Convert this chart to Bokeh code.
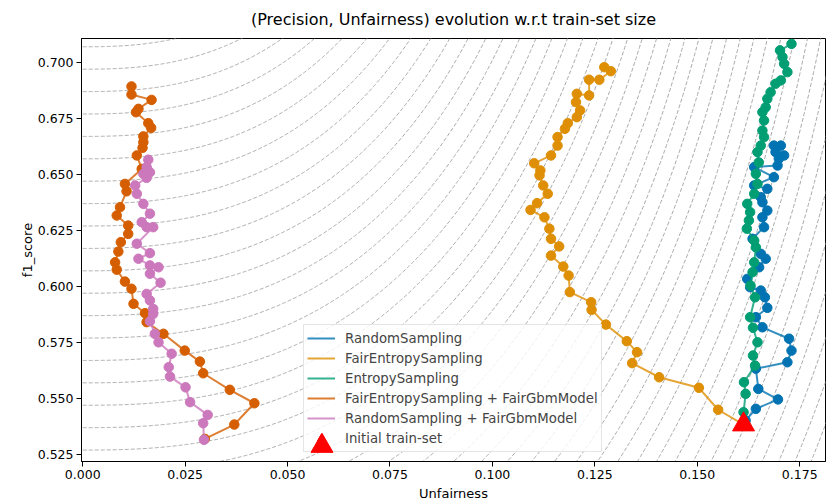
import numpy as np
from bokeh.plotting import figure
from bokeh.models import Range1d, FixedTicker, NumeralTickFormatter, Legend, LegendItem
from bokeh.embed import file_html
from bokeh.resources import INLINE

# ---------------- data ----------------
x_ticks = [0.0, 0.025, 0.05, 0.075, 0.1, 0.125, 0.15, 0.175]
y_ticks = [0.525, 0.55, 0.575, 0.6, 0.625, 0.65, 0.675, 0.7]

initial_x = [0.1613]
initial_y = [0.5384]

random_x = [0.1613, 0.1618, 0.1643, 0.1697, 0.1649, 0.1643, 0.1720, 0.1730, 0.1724,
            0.1659, 0.1643, 0.1671, 0.1665, 0.1655, 0.1629, 0.1622, 0.1651, 0.1667,
            0.1655, 0.1635, 0.1663, 0.1659, 0.1671, 0.1659, 0.1655, 0.1671, 0.1639,
            0.1687, 0.1639, 0.1696, 0.1699, 0.1712, 0.1691, 0.1704, 0.1687]
random_y = [0.5384, 0.5402, 0.5454, 0.5496, 0.5543, 0.5633, 0.5662, 0.5714, 0.5767,
            0.5818, 0.5863, 0.5905, 0.5952, 0.5982, 0.5997, 0.6034, 0.6086, 0.6124,
            0.6146, 0.6213, 0.6265, 0.6309, 0.6339, 0.6376, 0.6399, 0.6436, 0.6451,
            0.6488, 0.6533, 0.6540, 0.6570, 0.6585, 0.6600, 0.6629, 0.6629]

fair_entropy_x = [0.1613, 0.1551, 0.1504, 0.1407, 0.1341, 0.1353, 0.1328, 0.1277,
                  0.1242, 0.1241, 0.1189, 0.1186, 0.1173, 0.1143, 0.1163, 0.1143,
                  0.1139, 0.1127, 0.1093, 0.1109, 0.1135, 0.1124, 0.1115, 0.1117,
                  0.1102, 0.1143, 0.1159, 0.1159, 0.1177, 0.1184, 0.1206, 0.1214,
                  0.1204, 0.1206, 0.1236, 0.1236, 0.1261, 0.1289, 0.1273]
fair_entropy_y = [0.5384, 0.5450, 0.5548, 0.5595, 0.5658, 0.5707, 0.5756, 0.5830,
                  0.5896, 0.5930, 0.5975, 0.6049, 0.6089, 0.6138, 0.6179, 0.6213,
                  0.6258, 0.6309, 0.6342, 0.6372, 0.6414, 0.6451, 0.6496, 0.6518,
                  0.6550, 0.6585, 0.6629, 0.6667, 0.6704, 0.6729, 0.6756, 0.6786,
                  0.6823, 0.6860, 0.6853, 0.6923, 0.6923, 0.6961, 0.6979]

entropy_x = [0.1613, 0.1613, 0.1618, 0.1614, 0.1641, 0.1636, 0.1647, 0.1636, 0.1629,
             0.1641, 0.1630, 0.1635, 0.1639, 0.1643, 0.1639, 0.1621, 0.1626, 0.1629,
             0.1622, 0.1639, 0.1647, 0.1643, 0.1650, 0.1647, 0.1655, 0.1663, 0.1659,
             0.1663, 0.1659, 0.1667, 0.1671, 0.1679, 0.1691, 0.1704, 0.1720, 0.1712,
             0.1708, 0.1702, 0.1730]
entropy_y = [0.5384, 0.5439, 0.5521, 0.5573, 0.5647, 0.5692, 0.5751, 0.5816, 0.5863,
             0.5952, 0.6004, 0.6064, 0.6108, 0.6175, 0.6205, 0.6258, 0.6295, 0.6332,
             0.6369, 0.6414, 0.6458, 0.6503, 0.6554, 0.6600, 0.6629, 0.6667, 0.6696,
             0.6741, 0.6778, 0.6800, 0.6838, 0.6867, 0.6905, 0.6920, 0.6957, 0.6994,
             0.7024, 0.7054, 0.7083]

fes_gbm_x = [0.0298, 0.0370, 0.0419, 0.0359, 0.0294, 0.0286, 0.0249, 0.0197, 0.0156,
             0.0152, 0.0124, 0.0119, 0.0103, 0.0083, 0.0079, 0.0087, 0.0093, 0.0111,
             0.0111, 0.0083, 0.0091, 0.0107, 0.0103, 0.0144, 0.0132, 0.0146, 0.0148,
             0.0148, 0.0167, 0.0160, 0.0130, 0.0136, 0.0168, 0.0119, 0.0119]
fes_gbm_y = [0.5320, 0.5384, 0.5479, 0.5539, 0.5613, 0.5665, 0.5714, 0.5789, 0.5841,
             0.5881, 0.5923, 0.5990, 0.6022, 0.6075, 0.6108, 0.6156, 0.6198, 0.6235,
             0.6272, 0.6317, 0.6354, 0.6425, 0.6458, 0.6525, 0.6585, 0.6619, 0.6644,
             0.6670, 0.6708, 0.6729, 0.6778, 0.6793, 0.6833, 0.6857, 0.6893]

rs_gbm_x = [0.0296, 0.0294, 0.0305, 0.0262, 0.0251, 0.0213, 0.0210, 0.0217, 0.0185,
            0.0176, 0.0164, 0.0172, 0.0172, 0.0164, 0.0156, 0.0190, 0.0164, 0.0185,
            0.0164, 0.0136, 0.0164, 0.0132, 0.0172, 0.0156, 0.0144, 0.0164, 0.0148,
            0.0132, 0.0128, 0.0156, 0.0148, 0.0164, 0.0156, 0.0160]
rs_gbm_y = [0.5316, 0.5390, 0.5427, 0.5484, 0.5550, 0.5598, 0.5640, 0.5700, 0.5751,
            0.5789, 0.5845, 0.5878, 0.5900, 0.5938, 0.5967, 0.6017, 0.6057, 0.6086,
            0.6094, 0.6124, 0.6149, 0.6191, 0.6265, 0.6265, 0.6287, 0.6325, 0.6369,
            0.6414, 0.6451, 0.6485, 0.6503, 0.6510, 0.6533, 0.6566]

series_names = ["RandomSampling", "FairEntropySampling", "EntropySampling",
                "FairEntropySampling + FairGbmModel", "RandomSampling + FairGbmModel"]
series_colors = ["#0173b2", "#de8f05", "#029e73", "#d55e00", "#cc78bc"]
title_text = "(Precision, Unfairness) evolution w.r.t train-set size"

# background iso-curves (super-ellipses centred on (0, CENTER_Y))
CENTER_Y = 1.037
X_WEIGHT = 3.46
NORM_P = 2.5
LEVEL_STEP = 0.01

# ---------------- figure ----------------
p = figure(width=827, height=503, output_backend="svg", toolbar_location=None,
           x_range=Range1d(-0.0003, 0.1813), y_range=Range1d(0.5219, 0.7107),
           min_border_left=81, min_border_right=2, min_border_top=38, min_border_bottom=42,
           title=title_text)
p.title.text_font = "DejaVu Sans"
p.title.text_font_size = "16px"
p.title.text_font_style = "normal"
p.title.text_color = "black"
p.title.align = "center"
p.title.vertical_align = "top"
p.title.standoff = 15
p.xgrid.grid_line_color = None
p.ygrid.grid_line_color = None
p.outline_line_color = "black"
p.outline_line_alpha = 1
p.background_fill_color = "white"

p.xaxis.ticker = FixedTicker(ticks=x_ticks)
p.yaxis.ticker = FixedTicker(ticks=y_ticks)
p.xaxis.formatter = NumeralTickFormatter(format="0.000")
p.yaxis.formatter = NumeralTickFormatter(format="0.000")
p.xaxis.axis_label = "Unfairness"
p.yaxis.axis_label = "f1_score"
for ax in (p.xaxis[0], p.yaxis[0]):
    ax.major_label_text_font = "DejaVu Sans"
    ax.major_label_text_font_size = "12.5px"
    ax.major_label_text_color = "black"
    ax.axis_label_text_font = "DejaVu Sans"
    ax.axis_label_text_font_size = "13px"
    ax.axis_label_text_font_style = "normal"
    ax.axis_label_text_color = "black"
    ax.minor_tick_line_color = None
    ax.major_tick_out = 5
    ax.major_tick_in = 0
    ax.major_label_standoff = 3
    ax.axis_line_color = "black"
    ax.major_tick_line_color = "black"
p.xaxis[0].axis_label_standoff = 4
p.yaxis[0].axis_label_standoff = 0

# contour curves
xg = np.linspace(0.0, 0.19, 900)
f_top = CENTER_Y - 0.72
f_max = ((X_WEIGHT * 0.19) ** NORM_P + (CENTER_Y - 0.52) ** NORM_P) ** (1 / NORM_P)
cxs, cys = [], []
k = int(round(f_top / LEVEL_STEP))
while k * LEVEL_STEP <= f_max + LEVEL_STEP:
    F = k * LEVEL_STEP
    m = (X_WEIGHT * xg) <= F
    xx = xg[m]
    rem = np.maximum(F ** NORM_P - (X_WEIGHT * xx) ** NORM_P, 0)
    yy = CENTER_Y - rem ** (1 / NORM_P)
    cxs.append(xx.tolist())
    cys.append(yy.tolist())
    k += 1
p.multi_line(cxs, cys, line_color="#a8a8a8", line_width=1, line_dash="4 2")

all_x = [random_x, fair_entropy_x, entropy_x, fes_gbm_x, rs_gbm_x]
all_y = [random_y, fair_entropy_y, entropy_y, fes_gbm_y, rs_gbm_y]
line_rs = []
for xs, ys, col in zip(all_x, all_y, series_colors):
    lr = p.line(xs, ys, line_color=col, line_width=2, line_alpha=0.8)
    p.scatter(xs, ys, size=9.5, fill_color=col, line_color=col, marker="circle")
    line_rs.append(lr)

tri = p.scatter(initial_x, initial_y, marker="triangle", size=22,
                fill_color="red", line_color="red")

items = [LegendItem(label=n, renderers=[r]) for n, r in zip(series_names, line_rs)]
items.append(LegendItem(label="Initial train-set", renderers=[tri]))
legend = Legend(items=items, location=(222, 9))
legend.label_text_font = "DejaVu Sans"
legend.label_text_font_size = "13.3px"
legend.glyph_width = 28
legend.glyph_height = 20
legend.label_height = 20
legend.label_standoff = 10
legend.spacing = 0
legend.padding = 3
legend.margin = 0
legend.border_line_color = "#cccccc"
legend.border_line_width = 1
legend.background_fill_color = "white"
legend.background_fill_alpha = 0.8
p.add_layout(legend)

# second, transparent legend: draws the large red triangle handle on top
legend2 = Legend(items=[LegendItem(label=" ", renderers=[tri])], location=(213, -12))
legend2.glyph_width = 55
legend2.glyph_height = 55
legend2.label_height = 55
legend2.label_standoff = 0
legend2.label_width = 1
legend2.padding = 0
legend2.margin = 0
legend2.spacing = 0
legend2.border_line_alpha = 0
legend2.background_fill_alpha = 0
legend2.label_text_font_size = "2px"
p.add_layout(legend2)

open("out.html", "w").write(file_html(p, INLINE))
